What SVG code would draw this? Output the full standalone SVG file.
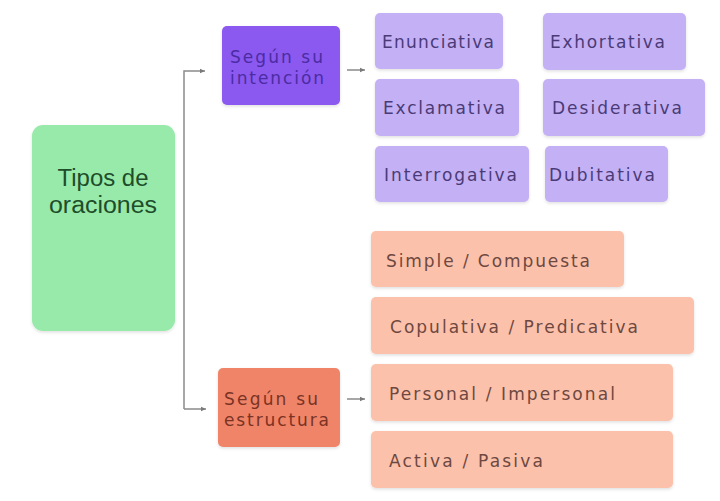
<svg xmlns="http://www.w3.org/2000/svg" width="720" height="501" viewBox="0 0 720 501">
<defs>
<marker id="arr" markerWidth="6" markerHeight="6" refX="5" refY="3" orient="auto" markerUnits="userSpaceOnUse"><path d="M0,0.8 L5,3 L0,5.2 Z" fill="#7a7a7a"/></marker>
<filter id="sh" x="-10%" y="-10%" width="120%" height="125%"><feDropShadow dx="0" dy="1.5" stdDeviation="1.5" flood-color="#000" flood-opacity="0.12"/></filter>
</defs>
<style>
text{font-family:"DejaVu Sans","Liberation Sans",sans-serif}
.root{fill:#97eaa9}
.rt{fill:#1e4d2b;font-size:23px;text-anchor:middle;font-family:"Liberation Sans",Arial,sans-serif}
.hp{fill:#8b58f0}
.hpt{fill:#4b2ca3;font-size:17px}
.ho{fill:#f08469}
.hot{fill:#7a3323;font-size:17px}
.ip{fill:#c4b0f4}
.ipt{fill:#4a3b78;font-size:17px}
.io{fill:#fcc1ab}
.iot{fill:#6e4840;font-size:17px}
.con{fill:none;stroke:#8a8a8a;stroke-width:1.5}
</style>
<rect width="720" height="501" fill="#ffffff"/>
<g id="connectors">
<path class="con" d="M184,409 L184,71 L205,71" marker-end="url(#arr)"/>
<path class="con" d="M184,409 L206,409" marker-end="url(#arr)"/>
<path class="con" d="M347,70 L365,70" marker-end="url(#arr)"/>
<path class="con" d="M347,399 L365,399" marker-end="url(#arr)"/>
</g>
<g id="tipos">
<rect class="root" x="32" y="125" width="143" height="206" rx="11" filter="url(#sh)"/>
<text class="rt" x="103" y="186" textLength="91" lengthAdjust="spacingAndGlyphs">Tipos de</text>
<text class="rt" x="103" y="213" textLength="108" lengthAdjust="spacingAndGlyphs">oraciones</text>
</g>
<g id="intencion">
<rect class="hp" x="222" y="26" width="118" height="79" rx="5" filter="url(#sh)"/>
<text class="hpt" x="230" y="63" textLength="93">Según su</text>
<text class="hpt" x="230" y="84" textLength="94">intención</text>
</g>
<g id="estructura">
<rect class="ho" x="218" y="368" width="122" height="79" rx="5" filter="url(#sh)"/>
<text class="hot" x="224" y="405" textLength="94">Según su</text>
<text class="hot" x="224" y="426" textLength="105">estructura</text>
</g>
<g id="enunciativa">
<rect class="ip" x="375" y="13" width="128" height="56" rx="5" filter="url(#sh)"/>
<text class="ipt" x="382" y="48" textLength="112">Enunciativa</text>
</g>
<g id="exhortativa">
<rect class="ip" x="543" y="13" width="143" height="57" rx="5" filter="url(#sh)"/>
<text class="ipt" x="550" y="48" textLength="115">Exhortativa</text>
</g>
<g id="exclamativa">
<rect class="ip" x="375" y="79" width="144" height="57" rx="5" filter="url(#sh)"/>
<text class="ipt" x="383" y="114" textLength="122">Exclamativa</text>
</g>
<g id="desiderativa">
<rect class="ip" x="543" y="79" width="162" height="57" rx="5" filter="url(#sh)"/>
<text class="ipt" x="552" y="114" textLength="130">Desiderativa</text>
</g>
<g id="interrogativa">
<rect class="ip" x="375" y="146" width="154" height="56" rx="5" filter="url(#sh)"/>
<text class="ipt" x="384" y="181" textLength="133">Interrogativa</text>
</g>
<g id="dubitativa">
<rect class="ip" x="545" y="146" width="123" height="56" rx="5" filter="url(#sh)"/>
<text class="ipt" x="549" y="181" textLength="106">Dubitativa</text>
</g>
<g id="simple">
<rect class="io" x="371" y="231" width="253" height="56" rx="5" filter="url(#sh)"/>
<text class="iot" x="386" y="267" textLength="204">Simple / Compuesta</text>
</g>
<g id="copulativa">
<rect class="io" x="371" y="297" width="323" height="57" rx="5" filter="url(#sh)"/>
<text class="iot" x="390" y="333" textLength="248">Copulativa / Predicativa</text>
</g>
<g id="personal">
<rect class="io" x="371" y="364" width="302" height="57" rx="5" filter="url(#sh)"/>
<text class="iot" x="389" y="400" textLength="226">Personal / Impersonal</text>
</g>
<g id="activa">
<rect class="io" x="371" y="431" width="302" height="57" rx="5" filter="url(#sh)"/>
<text class="iot" x="389" y="467" textLength="154">Activa / Pasiva</text>
</g>
</svg>
